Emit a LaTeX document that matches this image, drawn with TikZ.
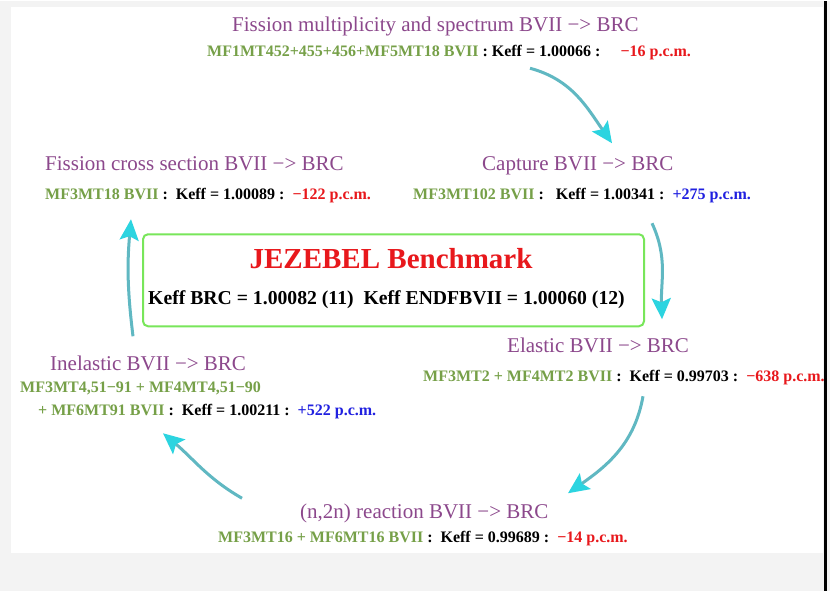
\documentclass[tikz,border=0pt]{standalone}
\usepackage{fontspec}
\setmainfont{Liberation Serif}
\usetikzlibrary{arrows.meta}
\definecolor{pagegrey}{RGB}{243,243,243}
\definecolor{titlepurple}{RGB}{140,72,140}
\definecolor{mfgreen}{RGB}{118,160,72}
\definecolor{pcmred}{RGB}{232,24,28}
\definecolor{pcmblue}{RGB}{32,32,224}
\definecolor{benchgreen}{RGB}{120,230,90}
\definecolor{flowteal}{RGB}{96,184,194}
\definecolor{flowhead}{RGB}{44,212,224}
\begin{document}
\begin{tikzpicture}[x=1pt,y=1pt,
    chantitle/.style={font=\fontsize{21}{24}\selectfont, text=titlepurple, inner sep=0pt, anchor=base west},
    chanres/.style={font=\bfseries\fontsize{16}{19}\selectfont, inner sep=0pt, anchor=base west},
    benchbox/.style={draw=benchgreen, line width=2pt, rounded corners=5pt, minimum width=501, minimum height=92, inner sep=0pt},
    flow/.style={draw=flowteal, line width=3pt, -{Stealth[length=21pt,width=19pt,inset=4pt,color=flowhead]}}]
  \fill[pagegrey] (0,0) rectangle (830,-590);
  \fill[white] (11,-6) rectangle (823,-552);
  \draw[line width=2.5pt] (825.5,0) -- (825.5,-590);
  \useasboundingbox (0,0) rectangle (830,-590);

  \node (bench) [benchbox] at (393.5,-279) {};
  \node (benchname) [inner sep=0pt, anchor=base, font=\bfseries\fontsize{29}{33}\selectfont, text=pcmred] at (391,-267) {JEZEBEL Benchmark};
  \node (benchkeff) [inner sep=0pt, anchor=base west, font=\bfseries\fontsize{19.7}{23}\selectfont] at (148,-303) {Keff BRC = 1.00082 (11) \ Keff ENDFBVII = 1.00060 (12)};

  \node (multtitle) [chantitle] at (232,-30) {Fission multiplicity and spectrum BVII −> BRC};
  \node (multres) [chanres] at (207,-55) {\textcolor{mfgreen}{MF1MT452+455+456+MF5MT18 BVII} : Keff = 1.00066 :\ \ \ \ \ \textcolor{pcmred}{−16 p.c.m.}};

  \node (capttitle) [chantitle] at (482,-169) {Capture BVII −> BRC};
  \node (captres) [chanres] at (413,-198) {\textcolor{mfgreen}{MF3MT102 BVII} :\ \ \ Keff = 1.00341 :\ \ \textcolor{pcmblue}{+275 p.c.m.}};

  \node (elastitle) [chantitle] at (507,-351) {Elastic BVII −> BRC};
  \node (elasres) [chanres] at (423,-380) {\textcolor{mfgreen}{MF3MT2 + MF4MT2 BVII} :\ \ Keff = 0.99703 :\ \ \textcolor{pcmred}{−638 p.c.m.}};

  \node (ntwontitle) [chantitle] at (300,-517) {(n,2n) reaction BVII −> BRC};
  \node (ntwonres) [chanres] at (218,-541) {\textcolor{mfgreen}{MF3MT16 + MF6MT16 BVII} :\ \ Keff = 0.99689 :\ \ \textcolor{pcmred}{−14 p.c.m.}};

  \node (inelatitle) [chantitle] at (50,-369) {Inelastic BVII −> BRC};
  \node (inelares) [chanres] at (20,-391) {\textcolor{mfgreen}{MF3MT4,51−91 + MF4MT4,51−90}};
  \node (inelaresb) [chanres] at (38,-414) {\textcolor{mfgreen}{+ MF6MT91 BVII} :\ \ Keff = 1.00211 :\ \ \textcolor{pcmblue}{+522 p.c.m.}};

  \node (fisstitle) [chantitle] at (45,-169) {Fission cross section BVII −> BRC};
  \node (fissres) [chanres] at (45,-198) {\textcolor{mfgreen}{MF3MT18 BVII} :\ \ Keff = 1.00089 :\ \ \textcolor{pcmred}{−122 p.c.m.}};

  \coordinate (multout) at (530,-67);
  \coordinate (captin) at (612,-142);
  \coordinate (captout) at (652,-222);
  \coordinate (elasin) at (662,-318);
  \coordinate (elasout) at (643,-395);
  \coordinate (ntwonin) at (568,-492);
  \coordinate (ntwonout) at (242,-497);
  \coordinate (inelain) at (163,-432);
  \coordinate (inelaout) at (133,-335);
  \coordinate (fissin) at (131,-218);

  \draw[flow] (multout) to[out=-15,in=125] (captin);
  \draw[flow] (captout) to[out=-65,in=92] (elasin);
  \draw[flow] (elasout) to[out=-100,in=35] (ntwonin);
  \draw[flow] (ntwonout) to[out=150,in=-40] (inelain);
  \draw[flow] (inelaout) to[out=97,in=-95] (fissin);
\end{tikzpicture}
\end{document}
